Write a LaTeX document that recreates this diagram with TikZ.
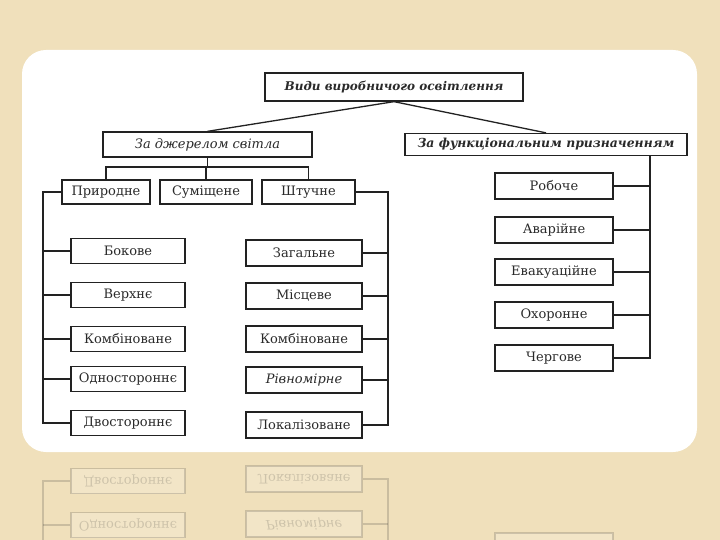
\documentclass[tikz,border=0pt]{standalone}
\usepackage{fontspec}
\setmainfont{DejaVu Serif}
\definecolor{parch}{RGB}{240,224,187}
\definecolor{ink}{RGB}{34,34,34}
\definecolor{txt}{RGB}{42,42,42}
\tikzset{
  box/.style={draw=ink, line width=1.3pt, fill=white, minimum height=25pt,
    inner sep=0pt, text=txt, font=\fontsize{13}{15}\selectfont},
  conn/.style={draw=ink, line width=1.3pt},
  lbox/.style={box, minimum width=114pt, minimum height=25pt},
  rbox/.style={box, minimum width=116pt, minimum height=26pt},
  fbox/.style={box, minimum width=118pt, minimum height=26pt}
}
\newcommand\drawdiagram{%
  \node[box, minimum width=258pt, minimum height=28pt, font=\fontsize{12}{14}\selectfont\bfseries\itshape] (top) at (394,87) {Види виробничого освітлення};
  \node[box, minimum width=209pt, minimum height=25pt, font=\fontsize{13}{15}\selectfont\itshape] (src) at (207.5,144.5) {За джерелом світла};
  \node[box, minimum width=282pt, minimum height=22pt, font=\fontsize{12.4}{14}\selectfont\bfseries\itshape] (fun) at (546,144.5) {За функціональним призначенням};
  \node[box, minimum width=88pt, minimum height=24pt] (n1) at (106,192) {Природне};
  \node[box, minimum width=92pt, minimum height=24pt] (n2) at (206,192) {Суміщене};
  \node[box, minimum width=93pt, minimum height=24pt] (n3) at (308.5,192) {Штучне};
  \node[lbox] (a1) at (128,251) {Бокове};
  \node[lbox] (a2) at (128,295) {Верхнє};
  \node[lbox] (a3) at (128,339) {Комбіноване};
  \node[lbox] (a4) at (128,379) {Одностороннє};
  \node[lbox] (a5) at (128,423) {Двостороннє};
  \node[rbox] (b1) at (304,253) {Загальне};
  \node[rbox] (b2) at (304,296) {Місцеве};
  \node[rbox] (b3) at (304,339) {Комбіноване};
  \node[rbox, font=\fontsize{13}{15}\selectfont\itshape] (b4) at (304,380) {Рівномірне};
  \node[rbox] (b5) at (304,425) {Локалізоване};
  \node[fbox] (c1) at (554,186) {Робоче};
  \node[fbox] (c2) at (554,230) {Аварійне};
  \node[fbox] (c3) at (554,272) {Евакуаційне};
  \node[fbox] (c4) at (554,315) {Охоронне};
  \node[fbox] (c5) at (554,358) {Чергове};
  \coordinate (bar) at (0,167);
  \coordinate (lt) at (43,0);
  \coordinate (rt) at (388,0);
  \coordinate (ft) at (650,0);
  \draw[conn] (top.south) -- (src.north);
  \draw[conn] (top.south) -- (fun.north);
  \draw[conn] (src.south) -- (src.south |- bar);
  \draw[conn] (n1.north) -- (n1.north |- bar) -- (n3.north |- bar) -- (n3.north);
  \draw[conn] (n2.north) -- (n2.north |- bar);
  \draw[conn] (n1.west) -- (n1.west -| lt) -- (a5.west -| lt) -- (a5.west);
  \foreach \k in {a1,a2,a3,a4} { \draw[conn] (\k.west) -- (\k.west -| lt); }
  \draw[conn] (n3.east) -- (n3.east -| rt) -- (b5.east -| rt) -- (b5.east);
  \foreach \k in {b1,b2,b3,b4} { \draw[conn] (\k.east) -- (\k.east -| rt); }
  \draw[conn] (fun.south -| ft) -- (c5.east -| ft) -- (c5.east);
  \foreach \k in {c1,c2,c3,c4} { \draw[conn] (\k.east) -- (\k.east -| ft); }
}
\newcommand\drawreflection{%
  \node[lbox] (ra4) at (128,379) {Одностороннє};
  \node[lbox] (ra5) at (128,423) {Двостороннє};
  \node[rbox, font=\fontsize{13}{15}\selectfont\itshape] (rb4) at (304,380) {Рівномірне};
  \node[rbox] (rb5) at (304,425) {Локалізоване};
  \draw[draw=ink, line width=1.3pt, fill=white] (495,345) rectangle (613,371);
  \coordinate (rlt) at (43,0);
  \coordinate (rrt) at (388,0);
  \draw[conn] (ra4.west -| rlt) -- (ra5.west -| rlt) -- (ra5.west);
  \draw[conn] (ra4.west) -- (ra4.west -| rlt);
  \draw[conn] (rb4.east -| rrt) -- (rb5.east -| rrt) -- (rb5.east);
  \draw[conn] (rb4.east) -- (rb4.east -| rrt);
  \draw[conn] (rlt |- 0,360) -- (ra4.west -| rlt);
  \draw[conn] (rrt |- 0,360) -- (rb4.east -| rrt);
}
\begin{document}
\begin{tikzpicture}[x=1pt,y=-1pt]
  \fill[parch] (0,0) rectangle (720,540);
  \useasboundingbox (0,0) rectangle (720,540);
  \fill[white, rounded corners=24pt] (22,50) rectangle (697,452);
  \begin{scope}
    \clip (22,453) rectangle (697,540);
    \begin{scope}[shift={(0,904)}, yscale=-1, transform shape, opacity=0.18]
      \drawreflection
    \end{scope}
  \end{scope}
  \drawdiagram
\end{tikzpicture}
\end{document}
